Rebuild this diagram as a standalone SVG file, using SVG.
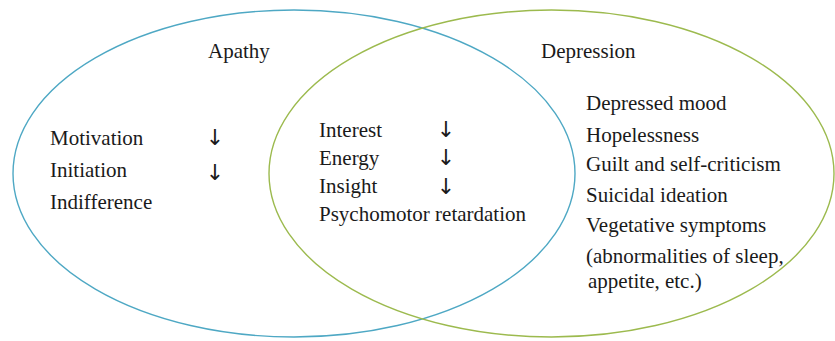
<svg xmlns="http://www.w3.org/2000/svg" width="835" height="341" viewBox="0 0 835 341">
<rect width="835" height="341" fill="#ffffff"/>
<g id="apathy">
<ellipse cx="294" cy="173.5" rx="281" ry="163.5" fill="none" stroke-width="1.4" stroke="#4ea8c4"/>
<text x="208" y="58" font-family="Times New Roman, Liberation Serif, serif" font-size="21" fill="#1a1a1a">Apathy</text>
<text x="50" y="145" font-family="Times New Roman, Liberation Serif, serif" font-size="21" fill="#1a1a1a">Motivation</text>
<text x="50" y="177" font-family="Times New Roman, Liberation Serif, serif" font-size="21" fill="#1a1a1a">Initiation</text>
<text x="50" y="209" font-family="Times New Roman, Liberation Serif, serif" font-size="21" fill="#1a1a1a">Indifference</text>
<text x="215" y="145" font-family="DejaVu Sans, sans-serif" font-size="22" text-anchor="middle" fill="#1a1a1a">&#8595;</text>
<text x="215" y="180" font-family="DejaVu Sans, sans-serif" font-size="22" text-anchor="middle" fill="#1a1a1a">&#8595;</text>
</g>
<g id="depression">
<ellipse cx="551.5" cy="173.5" rx="282.5" ry="163.5" fill="none" stroke-width="1.4" stroke="#9cba4e"/>
<text x="541" y="58" font-family="Times New Roman, Liberation Serif, serif" font-size="21" fill="#1a1a1a">Depression</text>
<text x="586" y="110" font-family="Times New Roman, Liberation Serif, serif" font-size="21" fill="#1a1a1a">Depressed mood</text>
<text x="586" y="142" font-family="Times New Roman, Liberation Serif, serif" font-size="21" fill="#1a1a1a">Hopelessness</text>
<text x="586" y="171" font-family="Times New Roman, Liberation Serif, serif" font-size="21" fill="#1a1a1a">Guilt and self-criticism</text>
<text x="586" y="202" font-family="Times New Roman, Liberation Serif, serif" font-size="21" fill="#1a1a1a">Suicidal ideation</text>
<text x="586" y="232" font-family="Times New Roman, Liberation Serif, serif" font-size="21" fill="#1a1a1a">Vegetative symptoms</text>
<text x="586" y="263" font-family="Times New Roman, Liberation Serif, serif" font-size="21" fill="#1a1a1a">(abnormalities of sleep,</text>
<text x="588" y="288" font-family="Times New Roman, Liberation Serif, serif" font-size="21" fill="#1a1a1a">appetite, etc.)</text>
</g>
<g id="overlap">
<text x="319" y="137" font-family="Times New Roman, Liberation Serif, serif" font-size="21" fill="#1a1a1a">Interest</text>
<text x="319" y="165" font-family="Times New Roman, Liberation Serif, serif" font-size="21" fill="#1a1a1a">Energy</text>
<text x="319" y="193" font-family="Times New Roman, Liberation Serif, serif" font-size="21" fill="#1a1a1a">Insight</text>
<text x="319" y="221" font-family="Times New Roman, Liberation Serif, serif" font-size="21" fill="#1a1a1a">Psychomotor retardation</text>
<text x="446" y="137" font-family="DejaVu Sans, sans-serif" font-size="22" text-anchor="middle" fill="#1a1a1a">&#8595;</text>
<text x="446" y="165" font-family="DejaVu Sans, sans-serif" font-size="22" text-anchor="middle" fill="#1a1a1a">&#8595;</text>
<text x="446" y="194" font-family="DejaVu Sans, sans-serif" font-size="22" text-anchor="middle" fill="#1a1a1a">&#8595;</text>
</g>
<g id="connectors"/>
</svg>
